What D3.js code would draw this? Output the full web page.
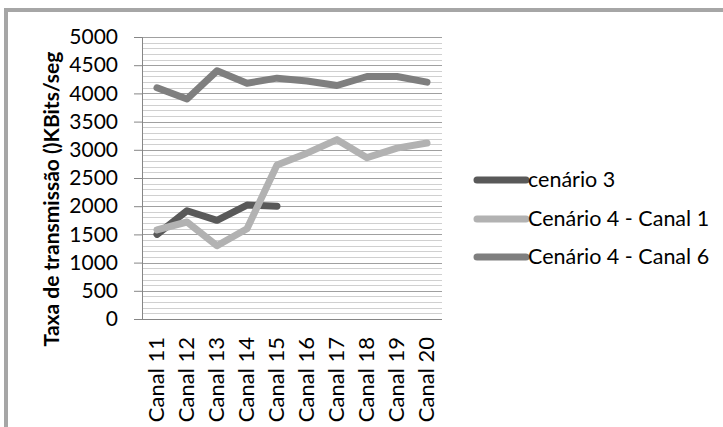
<!DOCTYPE html>
<html>
<head>
<meta charset="utf-8">
<script src="https://d3js.org/d3.v7.min.js"></script>
<style>
body { margin: 0; background: #fff; }
text { font-family: Lato, "Open Sans", sans-serif; fill: #000; }
</style>
</head>
<body>
<svg width="723" height="427"></svg>
<script>
var categories = ["Canal 11", "Canal 12", "Canal 13", "Canal 14", "Canal 15",
                  "Canal 16", "Canal 17", "Canal 18", "Canal 19", "Canal 20"];
var cenario3 = [1500, 1920, 1750, 2020, 2000, null, null, null, null, null];
var cenario4c1 = [1580, 1720, 1300, 1600, 2730, 2940, 3180, 2860, 3030, 3120];
var cenario4c6 = [4100, 3900, 4400, 4180, 4270, 4220, 4140, 4300, 4300, 4200];
var yTicks = [0, 500, 1000, 1500, 2000, 2500, 3000, 3500, 4000, 4500, 5000];

var series = [
  { name: "cenário 3", values: cenario3, color: "#595959" },
  { name: "Cenário 4 - Canal 1", values: cenario4c1, color: "#b2b2b2" },
  { name: "Cenário 4 - Canal 6", values: cenario4c6, color: "#7f7f7f" }
];

var svg = d3.select("svg");

// outer frame
svg.append("rect")
    .attr("x", 6).attr("y", 10)
    .attr("width", 730).attr("height", 430)
    .attr("fill", "none")
    .attr("stroke", "#a6a6a6")
    .attr("stroke-width", 4);

var pLeft = 142, pRight = 442, pTop = 37, pBottom = 319;

var x = d3.scaleBand().domain(categories).range([pLeft, pRight]);
var y = d3.scaleLinear().domain([0, 5000]).range([pBottom, pTop]);

// minor grid every 100
svg.append("g").selectAll("line")
  .data(d3.range(100, 5001, 100).filter(function(v) { return v % 500 !== 0; }))
  .enter().append("line")
    .attr("x1", pLeft).attr("x2", pRight)
    .attr("y1", function(d) { return Math.round(y(d)) + 0.5; })
    .attr("y2", function(d) { return Math.round(y(d)) + 0.5; })
    .attr("stroke", "#d0d0d0");

// major grid
svg.append("g").selectAll("line")
  .data(yTicks.slice(1))
  .enter().append("line")
    .attr("x1", pLeft).attr("x2", pRight)
    .attr("y1", function(d) { return Math.round(y(d)) + 0.5; })
    .attr("y2", function(d) { return Math.round(y(d)) + 0.5; })
    .attr("stroke", "#a0a0a0");

// y axis
var yAxis = svg.append("g")
    .attr("transform", "translate(" + pLeft + ",0)")
    .call(d3.axisLeft(y).tickValues(yTicks).tickFormat(d3.format("d")).tickSize(8).tickPadding(16));
yAxis.selectAll("line").attr("stroke", "#868686");
yAxis.select(".domain").attr("stroke", "#868686");
yAxis.selectAll("text").attr("font-size", 21).attr("fill", "#000")
    .style("font-family", "Lato, 'Open Sans', sans-serif");

// x axis baseline
svg.append("line")
    .attr("x1", pLeft - 8).attr("x2", pRight)
    .attr("y1", pBottom + 0.5).attr("y2", pBottom + 0.5)
    .attr("stroke", "#868686");

// category labels
svg.append("g").selectAll("text")
  .data(categories)
  .enter().append("text")
    .attr("transform", function(d) {
      return "translate(" + (x(d) + x.bandwidth() / 2 + 7) + "," + (pBottom + 18) + ") rotate(-90)";
    })
    .attr("text-anchor", "end")
    .attr("font-size", 22)
    .text(function(d) { return d; });

// y title
svg.append("text")
    .attr("transform", "translate(59,199) rotate(-90)")
    .attr("text-anchor", "middle")
    .attr("font-size", 21)
    .attr("font-weight", "bold")
    .text("Taxa de transmissão ()KBits/seg");

// lines
var line = d3.line()
    .defined(function(d) { return d != null; })
    .x(function(d, i) { return x(categories[i]) + x.bandwidth() / 2; })
    .y(function(d) { return y(d); });

svg.append("g").selectAll("path")
  .data(series)
  .enter().append("path")
    .attr("d", function(s) { return line(s.values); })
    .attr("fill", "none")
    .attr("stroke", function(s) { return s.color; })
    .attr("stroke-width", 7)
    .attr("stroke-linejoin", "round")
    .attr("stroke-linecap", "round");

// legend
var legend = svg.append("g").selectAll("g")
  .data(series)
  .enter().append("g")
    .attr("transform", function(d, i) { return "translate(477," + [180, 219, 257][i] + ")"; });
legend.append("line")
    .attr("x1", 0).attr("x2", 49)
    .attr("stroke", function(d) { return d.color; })
    .attr("stroke-width", 7)
    .attr("stroke-linecap", "round");
legend.append("text")
    .attr("x", 51).attr("y", 7)
    .attr("font-size", 21.5)
    .text(function(d) { return d.name; });
</script>
</body>
</html>
